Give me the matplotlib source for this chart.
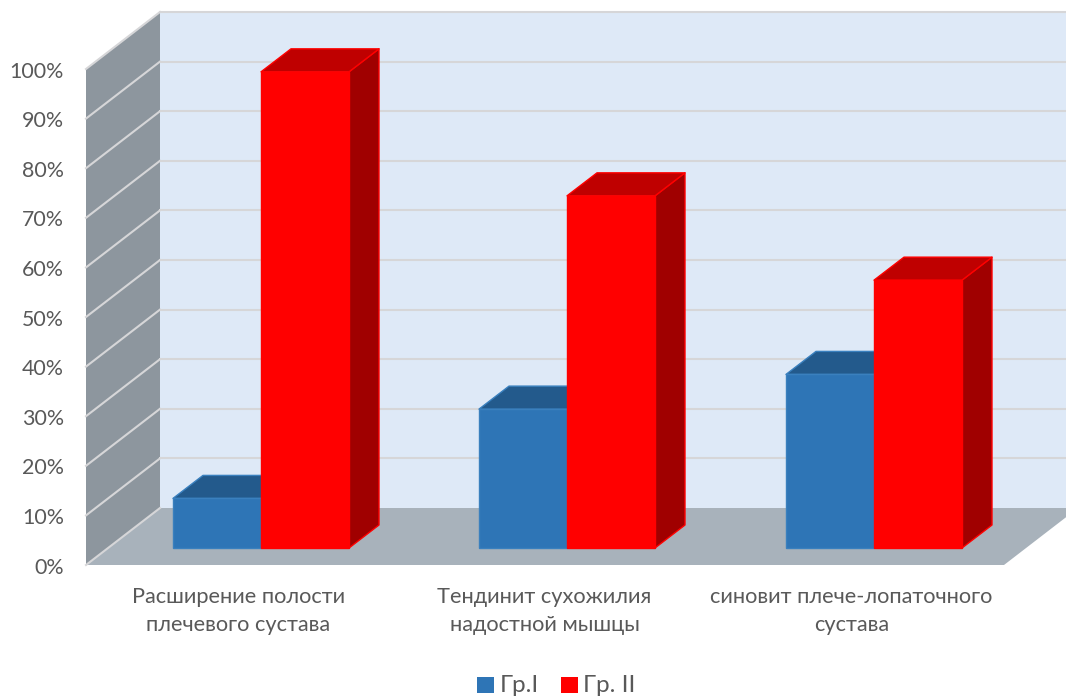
import numpy as np
import matplotlib
matplotlib.use('Agg')
import matplotlib.pyplot as plt
from matplotlib.patches import Polygon, Rectangle

plt.rcParams['font.family'] = ['Lato', 'Open Sans', 'DejaVu Sans']

categories = ['Расширение полости\nплечевого сустава',
              'Тендинит сухожилия\nнадостной мышцы',
              'синовит плече-лопаточного\nсустава']
group_names = ['Гр.I', 'Гр. II']
group1 = [10, 28, 35]
group2 = [96, 71, 54]
ticks = list(range(0, 101, 10))

# oblique box, in pixels of the figure
X0, Y0 = 86, 565
PER_PCT = 4.96
DEPTH_X, DEPTH_Y = 74, -57
BOX_W = 918
# bars stand on a plane partway into the box
BAR_Y0 = 548
BAR_DX, BAR_DY = 30, -23
GROUP_X = [173, 479, 786]
BAR_W = 88

TEXT = '#595959'
GRID = '#D6D6D8'


def wall_pt(x, pct, depth=0.0):
    return (X0 + x + DEPTH_X*depth, Y0 - pct*PER_PCT + DEPTH_Y*depth)


def draw_bar(ax, x, value, front, top, side, edge):
    y = BAR_Y0 - value*PER_PCT
    w = BAR_W
    ax.add_patch(Polygon([(x+w, BAR_Y0), (x+w+BAR_DX, BAR_Y0+BAR_DY),
                          (x+w+BAR_DX, y+BAR_DY), (x+w, y)],
                         fc=side, ec=edge, lw=1, joinstyle='round', zorder=3))
    ax.add_patch(Polygon([(x, y), (x+BAR_DX, y+BAR_DY),
                          (x+w+BAR_DX, y+BAR_DY), (x+w, y)],
                         fc=top, ec=edge, lw=1, joinstyle='round', zorder=3))
    ax.add_patch(Rectangle((x, y), w, BAR_Y0-y, fc=front, ec=edge, lw=1,
                           zorder=3))


fig = plt.figure(figsize=(10.66, 6.97), dpi=100)
ax = fig.add_axes([0, 0, 1, 1])
ax.set_xlim(0, 1066)
ax.set_ylim(697, 0)
ax.axis('off')

# back wall, side wall and floor
ax.add_patch(Polygon([wall_pt(0, 0, 1), wall_pt(0, 100, 1),
                      wall_pt(BOX_W+20, 100, 1), wall_pt(BOX_W+20, 0, 1)],
                     fc='#DEE9F7', ec='none'))
ax.add_patch(Polygon([wall_pt(0, 0), wall_pt(0, 100),
                      wall_pt(0, 100, 1), wall_pt(0, 0, 1)],
                     fc='#8D969E', ec='none'))
ax.add_patch(Polygon([wall_pt(0, 0), wall_pt(0, 0, 1),
                      wall_pt(BOX_W, 0, 1), wall_pt(BOX_W, 0)],
                     fc='#A8B2BB', ec='none'))

for t in ticks:
    p0, p1, p2 = wall_pt(0, t), wall_pt(0, t, 1), wall_pt(BOX_W+20, t, 1)
    ax.plot([p0[0], p1[0]], [p0[1], p1[1]], color=GRID, lw=1.5, zorder=2)
    if t > 0:
        ax.plot([p1[0], p2[0]], [p1[1], p2[1]], color=GRID, lw=1.5, zorder=2)
    ax.text(X0-22, p0[1]+2.5, '%d%%' % t, ha='right', va='center',
            fontsize=15.4, color=TEXT)

for i, x in enumerate(GROUP_X):
    draw_bar(ax, x, group1[i], '#2E75B6', '#235A8C', '#1F4E79', '#3A80BE')
    draw_bar(ax, x+BAR_W, group2[i], '#FF0000', '#BF0000', '#A00000', '#FF0000')
    ax.text(x+BAR_W-22.5, 587, categories[i], ha='center', va='top',
            fontsize=15.7, color=TEXT, linespacing=1.52)

# legend
ax.add_patch(Rectangle((477, 677), 17, 16, fc='#2E75B6', ec='none'))
ax.text(500, 685, group_names[0], ha='left', va='center', fontsize=17.5, color=TEXT)
ax.add_patch(Rectangle((561, 677), 17, 16, fc='#FF0000', ec='none'))
ax.text(583, 685, group_names[1], ha='left', va='center', fontsize=17.5, color=TEXT)

fig.savefig('out.png', dpi=100)
